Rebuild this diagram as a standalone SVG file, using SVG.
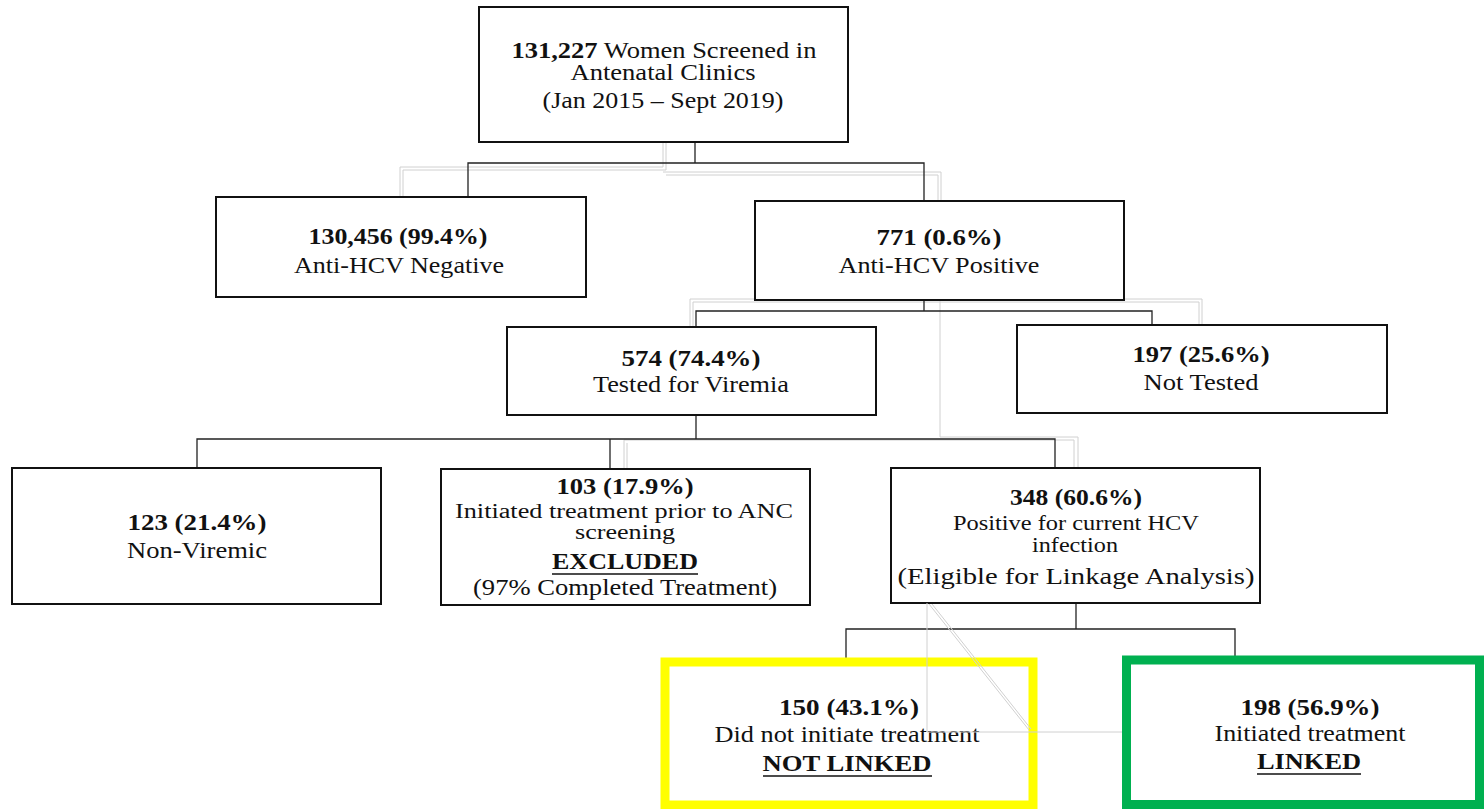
<svg xmlns="http://www.w3.org/2000/svg" width="1484" height="809" viewBox="0 0 1484 809">
<style>
.box{fill:#fff;stroke:#111;stroke-width:2}
.t{font-family:"Liberation Serif","Times New Roman",serif;font-size:23px;fill:#111;text-anchor:middle}
.s{font-size:20px}
.b{font-weight:bold}
.c{fill:none;stroke:#222;stroke-width:1.3}
.g{fill:none;stroke:#d0d0d0;stroke-width:1}
.u{stroke:#111;stroke-width:1.5}
</style>
<rect width="1484" height="809" fill="#fff"/>
<g id="ghost-lines">
<polyline class="g" points="663,142 663,167 400,167 400,197"/>
<polyline class="g" points="666,142 666,170 403,170 403,197"/>
<polyline class="g" points="663,172 941,172 941,201"/>
<polyline class="g" points="666,175 938,175 938,201"/>
<polyline class="g" points="690,328 690,299 1202,299 1202,325"/>
<polyline class="g" points="693,328 693,302 1199,302 1199,325"/>
<polyline class="g" points="940,300 940,437 1078,437 1078,468"/>
<polyline class="g" points="940,440 624,440 624,469"/>
<polyline class="g" points="940,440 1074,440 1074,468"/>
<polyline class="g" points="627,443 627,469"/>
</g>
<g id="connectors">
<polyline class="c" points="695,142 695,163"/>
<polyline class="c" points="468,197 468,163 924,163 924,201"/>
<polyline class="c" points="924,300 924,311"/>
<polyline class="c" points="696,327 696,311 1152,311 1152,325"/>
<polyline class="c" points="696,415 696,439"/>
<polyline class="c" points="197,468 197,439 1055,439 1055,468"/>
<polyline class="c" points="610,439 610,469"/>
<polyline class="c" points="1076,603 1076,629"/>
<polyline class="c" points="846,658 846,629 1235,629 1235,656"/>
</g>
<g id="n-screened">
<rect class="box" x="479" y="7" width="369" height="135"/>
<text class="t" x="664" y="58" textLength="305" lengthAdjust="spacingAndGlyphs"><tspan class="b">131,227</tspan> Women Screened in</text>
<text class="t" x="663" y="80" textLength="185" lengthAdjust="spacingAndGlyphs">Antenatal Clinics</text>
<text class="t" x="663" y="108" textLength="241" lengthAdjust="spacingAndGlyphs">(Jan 2015 – Sept 2019)</text>
</g>
<g id="n-negative">
<rect class="box" x="216" y="197" width="370" height="100"/>
<text class="t b" x="398" y="244" textLength="179" lengthAdjust="spacingAndGlyphs">130,456 (99.4%)</text>
<text class="t" x="399" y="273" textLength="210" lengthAdjust="spacingAndGlyphs">Anti-HCV Negative</text>
</g>
<g id="n-positive">
<rect class="box" x="755" y="201" width="369" height="99"/>
<text class="t b" x="939" y="245" textLength="125" lengthAdjust="spacingAndGlyphs">771 (0.6%)</text>
<text class="t" x="939" y="273" textLength="201" lengthAdjust="spacingAndGlyphs">Anti-HCV Positive</text>
</g>
<g id="n-tested">
<rect class="box" x="507" y="327" width="369" height="88"/>
<text class="t b" x="691" y="366" textLength="139" lengthAdjust="spacingAndGlyphs">574 (74.4%)</text>
<text class="t" x="691" y="392" textLength="196" lengthAdjust="spacingAndGlyphs">Tested for Viremia</text>
</g>
<g id="n-nottested">
<rect class="box" x="1017" y="325" width="370" height="88"/>
<text class="t b" x="1201" y="362" textLength="137" lengthAdjust="spacingAndGlyphs">197 (25.6%)</text>
<text class="t" x="1201" y="390" textLength="115" lengthAdjust="spacingAndGlyphs">Not Tested</text>
</g>
<g id="n-nonviremic">
<rect class="box" x="12" y="468" width="369" height="136"/>
<text class="t b" x="197" y="530" textLength="139" lengthAdjust="spacingAndGlyphs">123 (21.4%)</text>
<text class="t" x="197" y="558" textLength="140" lengthAdjust="spacingAndGlyphs">Non-Viremic</text>
</g>
<g id="n-excluded">
<rect class="box" x="441" y="469" width="369" height="136"/>
<text class="t b" x="625" y="494" textLength="137" lengthAdjust="spacingAndGlyphs">103 (17.9%)</text>
<text class="t s" x="624" y="518" textLength="338" lengthAdjust="spacingAndGlyphs">Initiated treatment prior to ANC</text>
<text class="t s" x="625" y="539" textLength="100" lengthAdjust="spacingAndGlyphs">screening</text>
<text class="t b" x="625" y="569" textLength="146" lengthAdjust="spacingAndGlyphs">EXCLUDED</text>
<line class="u" x1="552" y1="574" x2="698" y2="574"/>
<text class="t" x="625" y="595" textLength="304" lengthAdjust="spacingAndGlyphs">(97% Completed Treatment)</text>
</g>
<g id="n-current">
<rect class="box" x="891" y="468" width="369" height="135"/>
<text class="t b" x="1076" y="505" textLength="132" lengthAdjust="spacingAndGlyphs">348 (60.6%)</text>
<text class="t s" x="1076" y="530" textLength="246" lengthAdjust="spacingAndGlyphs">Positive for current HCV</text>
<text class="t s" x="1075" y="552" textLength="86" lengthAdjust="spacingAndGlyphs">infection</text>
<text class="t" x="1076" y="584" textLength="357" lengthAdjust="spacingAndGlyphs">(Eligible for Linkage Analysis)</text>
</g>
<g id="n-notlinked">
<rect x="665" y="662" width="368" height="143" fill="#fff" stroke="#FFFF00" stroke-width="9"/>
<text class="t b" x="849" y="715" textLength="140" lengthAdjust="spacingAndGlyphs">150 (43.1%)</text>
<text class="t" x="847" y="742" textLength="265" lengthAdjust="spacingAndGlyphs">Did not initiate treatment</text>
<text class="t b" x="847" y="771" textLength="169" lengthAdjust="spacingAndGlyphs">NOT LINKED</text>
<line class="u" x1="763" y1="776" x2="932" y2="776"/>
</g>
<g id="n-linked">
<rect x="1126.5" y="660" width="353" height="144.5" fill="#fff" stroke="#00B050" stroke-width="9"/>
<text class="t b" x="1310" y="715" textLength="139" lengthAdjust="spacingAndGlyphs">198 (56.9%)</text>
<text class="t" x="1310" y="741" textLength="191" lengthAdjust="spacingAndGlyphs">Initiated treatment</text>
<text class="t b" x="1309" y="769" textLength="104" lengthAdjust="spacingAndGlyphs">LINKED</text>
<line class="u" x1="1257" y1="774" x2="1361" y2="774"/>
</g>
<g id="ghost-lines-front">
<polyline class="g" points="927,603 927,732 1122,732"/>
<line class="g" x1="929" y1="604" x2="1029" y2="730"/>
<line class="g" x1="932" y1="604" x2="1031" y2="729"/>
</g>
</svg>
